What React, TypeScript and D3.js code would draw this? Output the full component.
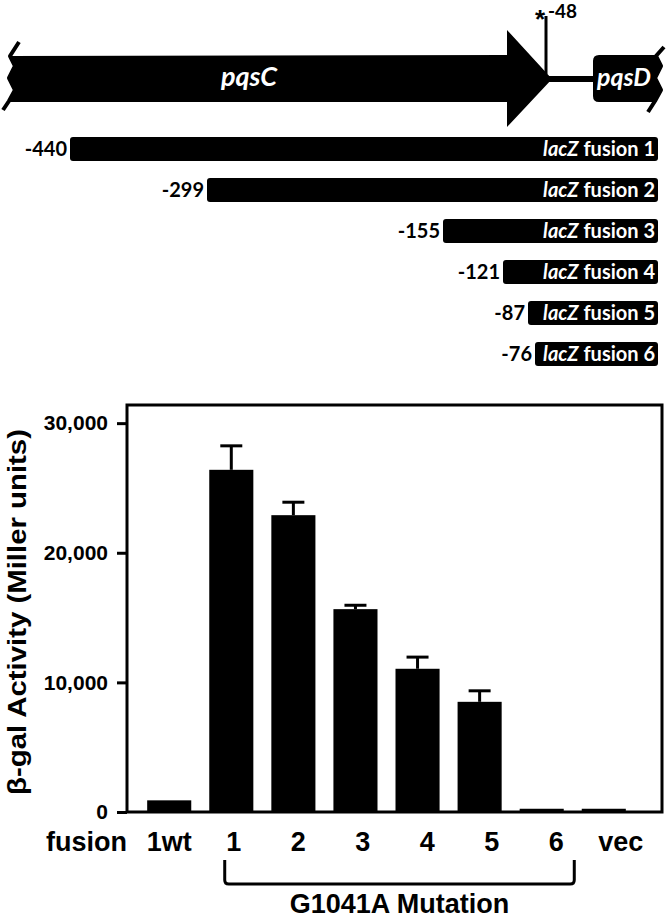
import React, { useEffect, useRef } from "react";
import * as d3 from "d3";

// bar chart data (beta-gal activity, Miller units)
const categories = ["1wt", "1", "2", "3", "4", "5", "6", "vec"];
const activity = [900, 26400, 22900, 15650, 11050, 8500, 250, 250];
const activityErr = [0, 1850, 1000, 300, 900, 850, 0, 0];
const yTicks = [0, 10000, 20000, 30000];

// lacZ fusion constructs (start position relative to pqsD)
const fusionIds = [1, 2, 3, 4, 5, 6];
const fusionStarts = [-440, -299, -155, -121, -87, -76];
const mutationSite = -48;

const App = () => {
  const ref = useRef<SVGSVGElement>(null);

  useEffect(() => {
    const svg = d3.select(ref.current);
    svg.selectAll("*").remove();

    const geneFont = "Lato, 'Open Sans', sans-serif";
    const chartFont = "'Liberation Sans', Arial, sans-serif";

    // ---------- gene schematic (not to scale, so piecewise) ----------
    const sx = d3
      .scaleLinear()
      .domain([...fusionStarts, mutationSite])
      .range([70, 207, 443, 503, 528, 535, 546]);
    const fusionEnd = 658;

    const top = svg.append("g");
    const bodyTop = 55;
    const bodyBot = 102;
    const midY = 79;
    const headBase = 507;
    const tip = 552;

    // pqsC arrow with broken left end
    top
      .append("path")
      .attr(
        "d",
        `M10,56 L${headBase},${bodyTop} L${headBase},30 L${tip},${midY} L${headBase},127 L${headBase},${bodyBot} L9,${bodyBot} L15,90 L9,78 L15,66 Z`
      )
      .attr("fill", "#000");
    top
      .append("path")
      .attr("d", "M19,42 L10,56 L15,66 L9,78 L15,90 L9,101 L3,110")
      .attr("fill", "none")
      .attr("stroke", "#000")
      .attr("stroke-width", 4)
      .attr("stroke-linejoin", "round");

    // intergenic line
    top
      .append("line")
      .attr("x1", tip - 4)
      .attr("x2", 596)
      .attr("y1", midY)
      .attr("y2", midY)
      .attr("stroke", "#000")
      .attr("stroke-width", 6);

    // pqsD box with broken right end
    top
      .append("path")
      .attr(
        "d",
        `M599,${bodyTop} L656,${bodyTop} L661,66 L655,78 L661,90 L655,${bodyBot} L599,${bodyBot} Q593,${bodyBot} 593,96 L593,61 Q593,${bodyTop} 599,${bodyTop} Z`
      )
      .attr("fill", "#000");
    top
      .append("path")
      .attr("d", "M664,47 L656,56 L661,66 L655,78 L661,90 L655,101 L648,112")
      .attr("fill", "none")
      .attr("stroke", "#000")
      .attr("stroke-width", 4)
      .attr("stroke-linejoin", "round");

    top
      .append("text")
      .attr("x", 249)
      .attr("y", 86)
      .attr("text-anchor", "middle")
      .attr("fill", "#fff")
      .attr("font-family", geneFont)
      .attr("font-weight", 700)
      .attr("font-style", "italic")
      .attr("font-size", 27)
      .text("pqsC");
    top
      .append("text")
      .attr("x", 624)
      .attr("y", 86)
      .attr("text-anchor", "middle")
      .attr("fill", "#fff")
      .attr("font-family", geneFont)
      .attr("font-weight", 700)
      .attr("font-style", "italic")
      .attr("font-size", 25)
      .text("pqsD");

    // mutation marker
    const mx = sx(mutationSite);
    top
      .append("line")
      .attr("x1", mx)
      .attr("x2", mx)
      .attr("y1", 16)
      .attr("y2", 74)
      .attr("stroke", "#000")
      .attr("stroke-width", 3);
    top
      .append("text")
      .attr("x", mx - 6)
      .attr("y", 28)
      .attr("text-anchor", "middle")
      .attr("font-family", chartFont)
      .attr("font-weight", 700)
      .attr("font-size", 26)
      .text("*");
    top
      .append("text")
      .attr("x", mx + 2)
      .attr("y", 18)
      .attr("font-family", geneFont)
      .attr("font-weight", 700)
      .attr("font-size", 19)
      .text(String(mutationSite));

    // fusion bars
    const rowY = d3.scaleLinear().domain([1, 6]).range([149, 354]);
    const rows = top
      .selectAll("g.fusion")
      .data(fusionIds)
      .join("g")
      .attr("class", "fusion");
    rows
      .append("rect")
      .attr("x", (d, i) => sx(fusionStarts[i]))
      .attr("y", (d) => rowY(d) - 12)
      .attr("width", (d, i) => fusionEnd - sx(fusionStarts[i]))
      .attr("height", 24)
      .attr("rx", 3)
      .attr("fill", "#000");
    rows
      .append("text")
      .attr("x", (d, i) => sx(fusionStarts[i]) - 3)
      .attr("y", (d) => rowY(d) + 7)
      .attr("text-anchor", "end")
      .attr("font-family", geneFont)
      .attr("font-weight", 700)
      .attr("font-size", 20)
      .text((d, i) => String(fusionStarts[i]));
    const lab = rows
      .append("text")
      .attr("x", fusionEnd - 3)
      .attr("y", (d) => rowY(d) + 7)
      .attr("text-anchor", "end")
      .attr("fill", "#fff")
      .attr("font-family", geneFont)
      .attr("font-weight", 700)
      .attr("font-size", 20);
    lab.append("tspan").attr("font-style", "italic").text("lacZ");
    lab.append("tspan").text((d) => ` fusion ${d}`);

    // ---------- bar chart ----------
    const left = 127;
    const right = 662;
    const frameTop = 405;
    const baseY = 812;

    const x = d3
      .scaleBand()
      .domain(categories)
      .range([136, 637])
      .paddingInner(0.29)
      .paddingOuter(0.18);
    const y = d3.scaleLinear().domain([0, 31400]).range([baseY, frameTop]);

    const chart = svg.append("g");

    chart
      .append("g")
      .selectAll("rect")
      .data(categories)
      .join("rect")
      .attr("x", (d) => x(d)!)
      .attr("y", (d, i) => y(activity[i]))
      .attr("width", x.bandwidth())
      .attr("height", (d, i) => baseY - y(activity[i]))
      .attr("fill", "#000");

    // upper error bars
    const errTop = (d: string) => {
      const i = categories.indexOf(d);
      return y(activity[i] + activityErr[i]);
    };
    const err = chart
      .append("g")
      .attr("stroke", "#000")
      .attr("stroke-width", 3)
      .selectAll("g")
      .data(categories.filter((d, i) => activityErr[i] > 0))
      .join("g");
    err
      .append("line")
      .attr("x1", (d) => x(d)! + x.bandwidth() / 2)
      .attr("x2", (d) => x(d)! + x.bandwidth() / 2)
      .attr("y1", (d) => y(activity[categories.indexOf(d)]))
      .attr("y2", errTop);
    err
      .append("line")
      .attr("x1", (d) => x(d)! + x.bandwidth() / 2 - 11)
      .attr("x2", (d) => x(d)! + x.bandwidth() / 2 + 11)
      .attr("y1", errTop)
      .attr("y2", errTop);

    // frame
    chart
      .append("path")
      .attr(
        "d",
        `M${left},${baseY} L${left},${frameTop} L${right},${frameTop} L${right},${baseY} Z`
      )
      .attr("fill", "none")
      .attr("stroke", "#000")
      .attr("stroke-width", 3);

    // y axis
    chart
      .append("g")
      .attr("transform", `translate(${left},0)`)
      .call(
        d3
          .axisLeft(y)
          .tickValues(yTicks)
          .tickFormat(d3.format(","))
          .tickSize(10)
          .tickPadding(9)
      )
      .call((g) => g.select(".domain").remove())
      .call((g) => g.selectAll(".tick line").attr("stroke-width", 3))
      .call((g) =>
        g
          .selectAll(".tick text")
          .attr("font-family", chartFont)
          .attr("font-weight", 700)
          .attr("font-size", 21)
          .attr("fill", "#000")
      );

    chart
      .append("text")
      .attr("transform", `translate(26,612) rotate(-90)`)
      .attr("text-anchor", "middle")
      .attr("font-family", chartFont)
      .attr("font-weight", 700)
      .attr("font-size", 26)
      .attr("textLength", 366)
      .attr("lengthAdjust", "spacingAndGlyphs")
      .text("β-gal Activity (Miller units)");

    // category labels (typeset as a separate, slightly wider row)
    const lx = d3
      .scalePoint()
      .domain(categories)
      .range([
        x(categories[0])! + x.bandwidth() / 2,
        x(categories[categories.length - 1])! + x.bandwidth() / 2 + 17,
      ]);
    const labelY = 851;
    chart
      .append("g")
      .selectAll("text")
      .data(categories)
      .join("text")
      .attr("x", (d) => lx(d)!)
      .attr("y", labelY)
      .attr("text-anchor", "middle")
      .attr("font-family", chartFont)
      .attr("font-weight", 700)
      .attr("font-size", 27)
      .text((d) => d);
    chart
      .append("text")
      .attr("x", left)
      .attr("y", labelY)
      .attr("text-anchor", "end")
      .attr("font-family", chartFont)
      .attr("font-weight", 700)
      .attr("font-size", 27)
      .text("fusion");

    // bracket over mutated fusions 1-6
    const bx1 = lx("1")! - 9;
    const bx2 = lx("6")! + 18;
    chart
      .append("path")
      .attr(
        "d",
        `M${bx1},860 L${bx1},880 Q${bx1},884 ${bx1 + 4},884 L${bx2 - 4},884 Q${bx2},884 ${bx2},880 L${bx2},860`
      )
      .attr("fill", "none")
      .attr("stroke", "#000")
      .attr("stroke-width", 3);
    chart
      .append("text")
      .attr("x", (bx1 + bx2) / 2)
      .attr("y", 913)
      .attr("text-anchor", "middle")
      .attr("font-family", chartFont)
      .attr("font-weight", 700)
      .attr("font-size", 27)
      .text("G1041A Mutation");
  }, []);

  return (
    <svg
      ref={ref}
      width={666}
      height={920}
      viewBox="0 0 666 920"
      style={{ position: "absolute", left: 0, top: 0, background: "#fff" }}
    />
  );
};

export default App;
